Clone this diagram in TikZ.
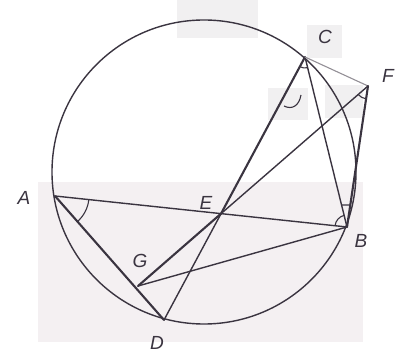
\documentclass[tikz,border=0pt]{standalone}
\usepackage{fontspec}
\setmainfont{Liberation Sans}
\usetikzlibrary{calc}
\definecolor{ink}{HTML}{3A3440}
\definecolor{patchA}{HTML}{F1F0F1}
\definecolor{patchB}{HTML}{F4F0F2}
\tikzset{
  geo/.style={draw=ink, line width=1.4pt, line cap=round},
  bold/.style={draw=ink, line width=2.1pt, line cap=round},
  faint/.style={draw=ink!55, line width=1.1pt, line cap=round},
  anglemark/.style={draw=ink, line width=1.1pt},
  lab/.style={text=ink, font=\fontsize{19}{19}\selectfont\itshape, inner sep=0pt}
}
\begin{document}
\begin{tikzpicture}[x=1pt,y=-1pt]
\useasboundingbox (0,0) rectangle (404,355);
% erased patches
\fill[patchB] (38,182) rectangle (363,342);
\fill[patchA] (177,0) rectangle (258,38);
\fill[patchA] (307,25) rectangle (342,58);
\fill[patchA] (268,88) rectangle (308,120);
\fill[patchA] (325,85) rectangle (363,118);
% points
\coordinate (O) at (204,172);
\coordinate (A) at (55,196);
\coordinate (C) at (305,57);
\coordinate (B) at (347,227);
\coordinate (D) at (164,320);
\coordinate (F) at (368,86);
\coordinate (G) at (138,286);
\coordinate (E) at (intersection of A--B and C--D);
% circle
\draw[geo] (O) circle[radius=152];
% lines
\draw[geo] (A) -- (B);
\draw[bold] (A) -- (D);
\draw[bold] (C) -- (E);
\draw[geo] (E) -- (D);
\draw[geo] (C) -- (B);
\draw[faint] (C) -- (F);
\draw[bold] (F) -- (B);
\draw[geo] (F) -- (E);
\draw[bold] (E) -- (G);
\draw[geo] (G) -- (B);
% angle marks (screen angles, y downward)
\draw[anglemark] ($(A)+(6:34)$) arc[start angle=6, end angle=49, radius=34];
\draw[anglemark] ($(C)+(118:11)$) arc[start angle=118, end angle=76, radius=11];
\draw[anglemark] ($(F)+(139:13)$) arc[start angle=139, end angle=99, radius=13];
\draw[anglemark] ($(B)+(-104:12)$) arc[start angle=-104, end angle=-174, radius=12];
\draw[anglemark] ($(C)!0.8706!(B)$) -- ($(F)!0.844!(B)$);
\draw[anglemark] (284,106) .. controls (292,110) and (299,106) .. (301,95);
% labels
\node[lab] (lA) at (24,198) {A};
\node[lab] (lC) at (325,37) {C};
\node[lab] (lF) at (388,76) {F};
\node[lab] (lE) at (206,203) {E};
\node[lab] (lB) at (361,241) {B};
\node[lab] (lG) at (140,261) {G};
\node[lab] (lD) at (157,343) {D};
\end{tikzpicture}
\end{document}
